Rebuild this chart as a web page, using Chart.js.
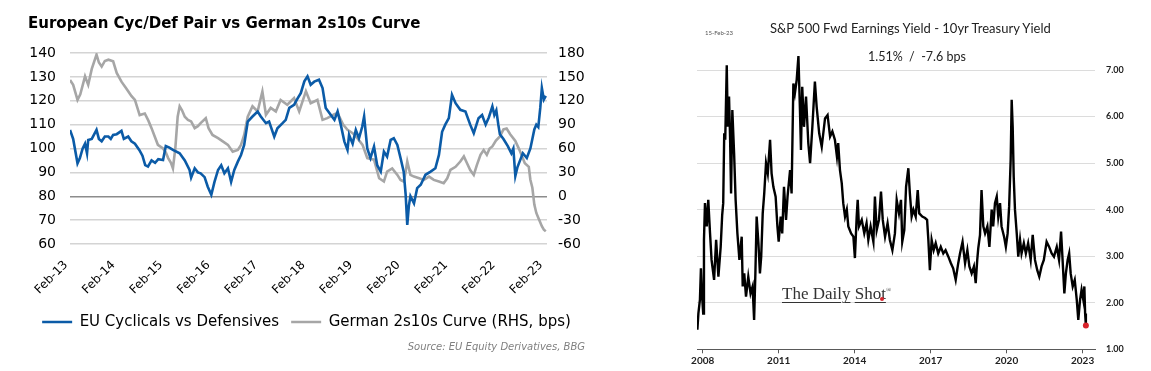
<!DOCTYPE html>
<html>
<head>
<meta charset="utf-8">
<title>Cyc/Def pair and S&amp;P 500 yield gap</title>
<script src="https://cdn.jsdelivr.net/npm/chart.js@4.4.1/dist/chart.umd.min.js"></script>
<style>
  body { margin: 0; background: #fff; width: 1151px; height: 371px; overflow: hidden; position: relative; }
  #left { position: absolute; left: 0; top: 0; }
  #right { position: absolute; left: 680px; top: 0; }
  .note { position: absolute; white-space: pre; color: #222; font-family: Lato, "Open Sans", sans-serif; }
  .u { text-decoration: underline; text-decoration-thickness: 1px; text-underline-offset: 3px; }
</style>
</head>
<body>
<canvas id="left" width="600" height="371"></canvas>
<canvas id="right" width="471" height="371"></canvas>

<div class="note" style="left:770px; top:20px; font-size:13px; line-height:16px;">S&amp;P 500 Fwd Earnings Yield - 10yr Treasury Yield</div>
<div class="note" style="left:868px; top:49px; font-size:12.5px; line-height:16px;">1.51%  /  -7.6 bps</div>
<div class="note" style="left:705px; top:29px; font-size:6px; line-height:8px; color:#555;">15-Feb-23</div>
<div class="note" style="left:782px; top:280px; font-size:17px; line-height:20px; color:#333; font-family:'Liberation Serif', serif;"><span class="u">The Daily</span> <span class="u">Shot</span><sup style="font-size:7px;">®</sup></div>
<div style="position:absolute; left:880px; top:297px; width:4px; height:4px; border-radius:2px; background:#d8242c;"></div>

<script>
// ---- left chart: EU cyclicals/defensives vs German 2s10s (months since Feb-13)
const cycDefMonths = [0, 0.8, 1.9, 2.5, 3.2, 3.8, 4.3, 4.6, 5.5, 6.7,
  7.3, 8, 8.8, 9.7, 10.3, 10.9, 11.8, 13, 13.6, 14.7,
  15.5, 16.4, 17.5, 18.3, 19, 19.7, 20.6, 21.5, 22.3, 23.5,
  24.2, 25, 26, 27.7, 29, 30.2, 30.6, 31.5, 32.3, 33,
  34, 34.8, 35.7, 36.5, 37.4, 38.2, 39, 39.9, 40.7, 41.5,
  42.4, 43.2, 44, 44.9, 46.1, 47.4, 48.2, 49.5, 50.3, 51.6,
  52.4, 53.7, 54.5, 55.4, 56.6, 57.5, 58.3, 59.2, 60, 60.8,
  61.7, 62.9, 63.8, 64.6, 65.9, 66.8, 67.6, 68.4, 69.3, 70.1,
  70.5, 71.4, 72.2, 73, 73.8, 74.3, 75.1, 75.9, 76.8, 77.6,
  78.5, 79.3, 80.1, 81, 81.8, 82.7, 83.5, 84.3, 84.8, 85.2,
  85.6, 86, 86.9, 87.7, 88.6, 89.8, 91.1, 92.3, 93.2, 94,
  94.8, 95.7, 96.5, 97.4, 98.6, 99.9, 101.1, 102, 103.2, 104.1,
  105, 105.8, 106.7, 107.2, 107.7, 108.2, 108.6, 109.5, 110.6, 111.5,
  112, 112.5, 113, 113.5, 114.4, 115.4, 116.3, 116.8, 117.3, 117.8,
  118.3, 118.8, 119.2, 119.7, 120.2];
const cycDefValues = [107.8, 104, 93.8, 96, 100, 102, 98, 103.6, 104, 107.8,
  104, 103, 105, 105, 104, 105.7, 106, 107.4, 104, 105,
  103, 102, 99.4, 97, 93, 92.4, 95, 94, 95.5, 95.2,
  101, 100.5, 99.4, 98, 95, 91, 87.8, 91.7, 90, 89.6,
  88, 84, 80.6, 86, 91, 93, 89.6, 91.7, 86, 91,
  94.5, 97.3, 101.5, 111.3, 113.4, 115.5, 113.4, 110.6, 111.3, 105,
  108.5, 110.6, 112, 117, 118.3, 121, 123.2, 128.1, 130.2, 126.7,
  128, 128.8, 125.3, 117, 114, 112, 115.5, 110, 103, 99.4,
  105.7, 102, 107.8, 104.3, 109, 113.4, 100, 96, 100.8, 93,
  90.3, 98.7, 96.6, 103.6, 104.3, 101.5, 96, 90.3, 80.6, 68,
  76, 80, 77, 83.4, 84.8, 89, 90.3, 91.7, 97.3, 107,
  110, 112.7, 122.5, 119, 116.2, 115.5, 110, 106.4, 112.7, 114,
  110, 113, 117.6, 114, 116, 110, 106, 104, 101, 98,
  100, 88.5, 92, 94.2, 98, 96, 100, 104, 108, 110,
  109, 117, 125.3, 120.5, 122];

const curveMonths = [0, 0.8, 1.9, 2.6, 3.8, 4.6, 5.5, 6.7, 7.3, 8,
  8.8, 9.7, 10.9, 11.8, 13, 14, 14.7, 15.5, 16.4, 17.6,
  18.9, 19.8, 20.6, 21.4, 22.2, 23.5, 24.2, 24.8, 25.5, 26,
  26.6, 27.2, 27.7, 28.3, 29, 29.8, 30.6, 31.5, 32.3, 33,
  34.3, 35, 36, 37.4, 38.6, 39.9, 41.1, 42.4, 43.2, 44,
  44.9, 46.1, 47.4, 48.6, 49.5, 50.7, 52, 53.2, 54.9, 56.6,
  57.9, 59.6, 60.8, 62.5, 63.8, 65, 66.8, 67.6, 69, 70.1,
  71.4, 72.6, 73.9, 75.1, 76.8, 78.1, 79.3, 80.1, 81.4, 82.7,
  83.5, 84.3, 84.8, 85.2, 86, 86.9, 88.2, 89.4, 90.7, 91.9,
  93.2, 94.4, 95.3, 96.1, 97.4, 98.6, 99.5, 100.3, 101.1, 102,
  102.8, 103.7, 104.5, 105.3, 106, 106.7, 107.6, 108.6, 109.5, 110.3,
  111.2, 112.5, 113.5, 114.9, 115.9, 116.3, 116.8, 117.3, 117.8, 118.3,
  119.2, 119.7, 120.2];
const curveValues = [146, 140, 121, 128, 150.6, 140, 160, 178, 168, 163,
  170, 171.6, 169.5, 155, 144, 137, 132, 126, 121, 102,
  104, 95, 85.6, 75, 64.6, 60, 55, 48, 42, 35,
  60, 100, 113, 108, 100, 96, 94, 85.6, 88, 92,
  98, 85.6, 77, 73, 69, 64.6, 56, 58.3, 64.6, 77,
  100, 113, 106.6, 131.7, 102.4, 111, 106.6, 121, 115, 123.4,
  106.6, 132, 117, 121, 96, 98.2, 103, 104.5, 90, 83.5,
  79.3, 73, 64.6, 48, 46, 22.6, 18.5, 31, 35, 26.8,
  20.5, 18.5, 31, 43.6, 26.8, 24.7, 22.6, 20.5, 24.7, 20.5,
  18.5, 16.4, 22.6, 33, 37, 43.6, 50, 41.5, 33, 26.8,
  39.4, 52, 58, 52, 60, 62.6, 70, 75.2, 84, 85,
  78, 69.6, 58.6, 41.6, 37, 20.8, 10.6, -10.5, -21, -27,
  -37.7, -42, -44];

const leftTickMonths = [0, 12, 24, 36, 48, 60, 72, 84, 96, 108, 120];
const leftTickLabels = ['Feb-13', 'Feb-14', 'Feb-15', 'Feb-16', 'Feb-17', 'Feb-18',
  'Feb-19', 'Feb-20', 'Feb-21', 'Feb-22', 'Feb-23'];

// ---- right chart: S&P 500 fwd earnings yield minus 10yr UST (decimal years)
const gapYears = [2007.79, 2007.83, 2007.89, 2007.93, 2007.97, 2008.02, 2008.05, 2008.09, 2008.16, 2008.22,
  2008.29, 2008.35, 2008.45, 2008.53, 2008.62, 2008.71, 2008.77, 2008.81, 2008.85, 2008.89,
  2008.95, 2008.99, 2009.04, 2009.08, 2009.12, 2009.17, 2009.24, 2009.3, 2009.37, 2009.45,
  2009.54, 2009.58, 2009.64, 2009.71, 2009.8, 2009.89, 2009.97, 2010.03, 2010.08, 2010.13,
  2010.2, 2010.26, 2010.31, 2010.37, 2010.43, 2010.5, 2010.57, 2010.66, 2010.72, 2010.79,
  2010.88, 2010.95, 2011.0, 2011.08, 2011.14, 2011.21, 2011.29, 2011.35, 2011.45, 2011.51,
  2011.58, 2011.64, 2011.71, 2011.78, 2011.84, 2011.88, 2011.93, 2012.0, 2012.08, 2012.17,
  2012.24, 2012.33, 2012.43, 2012.5, 2012.6, 2012.7, 2012.83, 2012.93, 2013.03, 2013.12,
  2013.22, 2013.3, 2013.35, 2013.42, 2013.49, 2013.55, 2013.62, 2013.69, 2013.75, 2013.86,
  2013.95, 2014.01, 2014.08, 2014.12, 2014.17, 2014.28, 2014.38, 2014.47, 2014.54, 2014.63,
  2014.74, 2014.8, 2014.87, 2014.96, 2015.04, 2015.11, 2015.2, 2015.3, 2015.39, 2015.49,
  2015.59, 2015.66, 2015.75, 2015.83, 2015.88, 2015.96, 2016.03, 2016.12, 2016.18, 2016.25,
  2016.32, 2016.41, 2016.49, 2016.55, 2016.67, 2016.78, 2016.86, 2016.91, 2016.97, 2017.04,
  2017.12, 2017.2, 2017.3, 2017.4, 2017.5, 2017.59, 2017.7, 2017.8, 2017.89, 2017.99,
  2018.09, 2018.16, 2018.26, 2018.36, 2018.45, 2018.53, 2018.62, 2018.71, 2018.78, 2018.84,
  2018.88, 2018.95, 2019.01, 2019.08, 2019.15, 2019.24, 2019.32, 2019.41, 2019.47, 2019.54,
  2019.61, 2019.67, 2019.74, 2019.8, 2019.9, 2019.97, 2020.04, 2020.1, 2020.16, 2020.2,
  2020.24, 2020.28, 2020.33, 2020.4, 2020.46, 2020.53, 2020.59, 2020.68, 2020.76, 2020.85,
  2020.95, 2021.03, 2021.12, 2021.21, 2021.29, 2021.38, 2021.47, 2021.58, 2021.68, 2021.78,
  2021.87, 2021.98, 2022.07, 2022.15, 2022.21, 2022.28, 2022.34, 2022.41, 2022.47, 2022.53,
  2022.61, 2022.69, 2022.77, 2022.83, 2022.9, 2022.96, 2023.03, 2023.07, 2023.1, 2023.13];
const gapValues = [1.42, 1.77, 2.06, 2.74, 2.2, 1.77, 3.35, 4.14, 3.64, 4.21,
  3.49, 2.92, 2.49, 3.35, 2.56, 3.2, 3.89, 4.14, 5.64, 5.5,
  7.1, 5.78, 6.43, 5.57, 4.35, 6.14, 5.21, 4.21, 3.49, 2.92,
  3.42, 2.35, 2.63, 2.13, 2.56, 2.2, 2.35, 1.63, 2.63, 3.85,
  3.28, 2.63, 2.99, 3.92, 4.35, 5.0, 4.78, 5.5, 4.78, 4.49,
  4.28, 3.64, 3.31, 3.85, 3.49, 4.49, 3.78, 4.28, 4.85, 4.35,
  6.71, 6.5, 6.78, 7.3, 6.14, 5.28, 6.64, 5.78, 6.43, 5.43,
  5.0, 5.78, 6.75, 6.21, 5.64, 5.35, 5.96, 6.03, 5.57, 5.68,
  5.5, 5.14, 5.43, 4.85, 4.57, 4.14, 3.85, 4.0, 3.64, 3.49,
  3.42, 2.96, 3.85, 4.21, 3.64, 3.78, 3.49, 3.71, 3.35, 3.64,
  3.31, 4.28, 3.56, 3.78, 4.39, 3.78, 3.42, 3.71, 3.35, 3.13,
  3.49, 4.21, 3.92, 4.21, 3.31, 3.56, 4.49, 4.89, 4.35, 3.85,
  4.0, 3.85, 4.42, 3.92, 3.85, 3.82, 3.78, 3.35, 2.7, 3.35,
  3.13, 3.28, 3.06, 3.2, 3.06, 3.13, 2.99, 2.85, 2.74, 2.49,
  2.85, 3.06, 3.31, 2.85, 3.13, 2.78, 2.63, 2.78, 2.42, 2.92,
  3.17, 3.46, 4.42, 3.64, 3.49, 3.64, 3.2, 4.0, 3.64, 4.14,
  4.28, 3.85, 4.14, 3.64, 3.42, 3.2, 3.49, 4.07, 5.07, 6.36,
  5.78, 4.71, 4.0, 3.49, 2.99, 3.35, 3.06, 3.28, 3.06, 3.28,
  2.92, 3.46, 2.92, 2.7, 2.56, 2.78, 2.92, 3.31, 3.2, 3.06,
  2.99, 3.2, 2.92, 3.53, 2.92, 2.2, 2.63, 2.92, 3.06, 2.63,
  2.35, 2.49, 2.06, 1.63, 2.06, 2.28, 2.06, 2.35, 1.77, 1.51];

const rightTickYears = [2008, 2011, 2014, 2017, 2020, 2023];
const rightTickValues = [1, 2, 3, 4, 5, 6, 7];

const pairData = cycDefMonths.map((m, i) => ({ x: m, y: cycDefValues[i] }));
const curveData = curveMonths.map((m, i) => ({ x: m, y: curveValues[i] }));
const gapData = gapYears.map((yr, i) => ({ x: yr, y: gapValues[i] }));

const leftFont = 'DejaVu Sans';

new Chart(document.getElementById('left'), {
    type: 'line',
    data: {
        datasets: [
            {
                label: 'EU Cyclicals vs Defensives',
                data: pairData,
                yAxisID: 'y',
                borderColor: '#0b5ba7',
                backgroundColor: '#0b5ba7',
                borderWidth: 2.6,
                pointRadius: 0,
                tension: 0
            },
            {
                label: 'German 2s10s Curve (RHS, bps)',
                data: curveData,
                yAxisID: 'y1',
                borderColor: '#a6a6a6',
                backgroundColor: '#a6a6a6',
                borderWidth: 2.6,
                pointRadius: 0,
                tension: 0
            }
        ]
    },
    options: {
        responsive: false,
        animation: false,
        events: [],
        layout: { padding: { left: 28, right: 15, top: 0, bottom: 0 } },
        plugins: {
            title: {
                display: true,
                text: 'European Cyc/Def Pair vs German 2s10s Curve',
                align: 'start',
                color: '#000',
                font: { family: leftFont, size: 15, weight: 'bold' },
                padding: { top: 15, bottom: 20 }
            },
            legend: {
                position: 'bottom',
                labels: {
                    usePointStyle: true,
                    pointStyle: 'line',
                    pointStyleWidth: 30,
                    padding: 12,
                    color: '#000',
                    font: { family: leftFont, size: 15 }
                }
            },
            subtitle: {
                display: true,
                position: 'bottom',
                align: 'end',
                text: 'Source: EU Equity Derivatives, BBG',
                color: '#808080',
                font: { family: leftFont, size: 10, style: 'italic' },
                padding: { top: 2, bottom: 17.5 }
            },
            tooltip: { enabled: false }
        },
        scales: {
            x: {
                type: 'linear',
                min: 0,
                max: 120.5,
                afterBuildTicks: s => { s.ticks = leftTickMonths.map(v => ({ value: v })); },
                afterFit: s => { s.height = 58.5; },
                grid: { display: false, drawTicks: false },
                border: { display: false },
                ticks: {
                    autoSkip: false,
                    minRotation: 45,
                    maxRotation: 45,
                    padding: 14,
                    labelOffset: -4,
                    color: '#000',
                    font: { family: leftFont, size: 12 },
                    callback: v => leftTickLabels[leftTickMonths.indexOf(v)]
                }
            },
            y: {
                position: 'left',
                min: 60,
                max: 140,
                afterFit: s => { s.width = 42; },
                grid: {
                    color: c => (c.tick && c.tick.value === 80) ? '#8c8c8c' : '#d4d4d4',
                    lineWidth: 1.5,
                    drawTicks: false
                },
                border: { display: false },
                ticks: { stepSize: 10, autoSkip: false, padding: 14, color: '#000', font: { family: leftFont, size: 14 } }
            },
            y1: {
                position: 'right',
                min: -60,
                max: 180,
                afterFit: s => { s.width = 38; },
                grid: { display: false, drawTicks: false },
                border: { display: false },
                ticks: { stepSize: 30, autoSkip: false, padding: 11, color: '#000', font: { family: leftFont, size: 14 } }
            }
        }
    }
});

// right chart
const lastIdx = gapValues.length - 1;
new Chart(document.getElementById('right'), {
    type: 'line',
    data: {
        datasets: [{
            data: gapData,
            borderColor: '#000',
            borderWidth: 2.4,
            pointRadius: c => c.dataIndex === lastIdx ? 3 : 0,
            pointBackgroundColor: '#d8242c',
            pointBorderWidth: 0,
            tension: 0
        }]
    },
    options: {
        responsive: false,
        animation: false,
        events: [],
        layout: { padding: { left: 17, right: 0, top: 50, bottom: 0 } },
        plugins: { legend: { display: false }, tooltip: { enabled: false } },
        scales: {
            x: {
                type: 'linear',
                min: 2007.775,
                max: 2023.49,
                afterBuildTicks: s => { s.ticks = rightTickYears.map(v => ({ value: v })); },
                afterFit: s => { s.height = 21.7; },
                grid: { drawOnChartArea: false, tickLength: 4, color: '#595959' },
                border: { color: '#595959' },
                ticks: {
                    autoSkip: false,
                    maxRotation: 0,
                    padding: 1,
                    color: '#222',
                    font: { family: 'Lato', size: 10, weight: 'bold' },
                    callback: v => String(v)
                }
            },
            y: {
                position: 'right',
                min: 1,
                max: 7.43,
                afterBuildTicks: s => { s.ticks = rightTickValues.map(v => ({ value: v })); },
                afterFit: s => { s.width = 56; },
                grid: { color: '#dcdcdc', drawTicks: false },
                border: { display: false },
                ticks: {
                    padding: 11,
                    color: '#222',
                    font: { family: 'Lato', size: 9, weight: 'bold' },
                    callback: v => v.toFixed(2)
                }
            }
        }
    }
});
</script>
</body>
</html>
